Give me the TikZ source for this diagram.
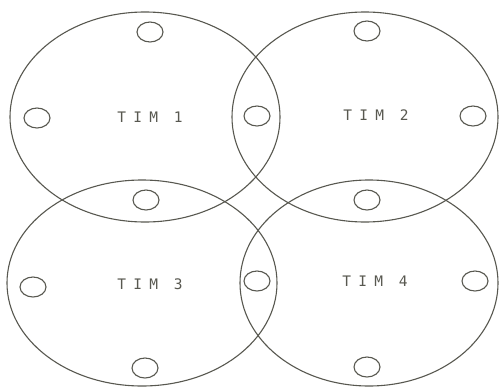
\documentclass[tikz,border=0pt]{standalone}
\usepackage{fontspec}
\newfontfamily\timfont[LetterSpace=50]{DejaVu Sans Mono}
\usetikzlibrary{shapes.geometric,positioning}
\definecolor{inkGray}{RGB}{88,88,80}
\tikzset{
  timRing/.style={ellipse,draw=inkGray,line width=1.1pt,inner sep=0pt},
  holeRing/.style={ellipse,draw=inkGray,line width=1.1pt,inner sep=0pt,
                   minimum width=26pt,minimum height=20pt},
  timLabel/.style={text=inkGray,font=\timfont\fontsize{14.5pt}{16pt}\selectfont},
}
\begin{document}
\begin{tikzpicture}[x=1pt,y=-1pt]
  \useasboundingbox[fill=white](0,0) rectangle (500,388);
  % the four rings
  \node[timRing,minimum width=270pt,minimum height=210pt](t1) at (145,117){};
  \node[timRing,minimum width=266pt,minimum height=210pt](t2) at (365,117){};
  \node[timRing,minimum width=270pt,minimum height=206pt](t3) at (142,283){};
  \node[timRing,minimum width=258pt,minimum height=206pt](t4) at (369,283){};
  \node[timLabel](l1) at (150,117){TIM 1};
  \node[timLabel](l2) at (376,115){TIM 2};
  \node[timLabel](l3) at (150,284){TIM 3};
  \node[timLabel](l4) at (375,281){TIM 4};
  % holes
  \foreach \n/\x/\y in {a/150/32,b/37/118,c/257/116,d/367/31,e/473/116,
      f/146/200,g/367/200,h/33/287,i/257/281,j/475/281,k/145/368,m/367/367}
    {\node[holeRing](h\n) at (\x,\y){};}
\end{tikzpicture}
\end{document}
